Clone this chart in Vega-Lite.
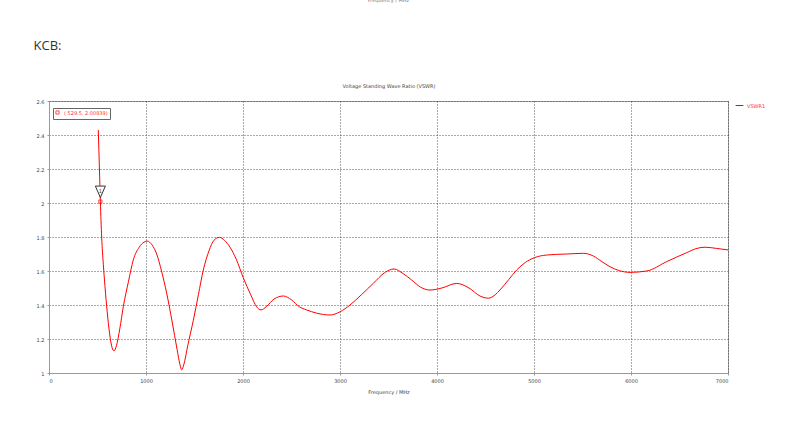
{
  "$schema": "https://vega.github.io/schema/vega-lite/v6.json",
  "autosize": {"type": "none"},
  "width": 679,
  "height": 272,
  "padding": {"left": 49, "top": 101, "right": 75, "bottom": 57},
  "background": "white",
  "config": {
    "font": "DejaVu Sans",
    "view": {"stroke": "#a0a0a0", "strokeWidth": 1},
    "axis": {
      "labelFont": "DejaVu Sans",
      "labelFontSize": 5,
      "labelColor": "#444",
      "titleFont": "DejaVu Sans",
      "titleFontSize": 5,
      "titleFontWeight": "normal",
      "titleColor": "#444",
      "gridColor": "#444",
      "gridDash": [1, 2],
      "gridOpacity": 0.9,
      "gridWidth": 1,
      "domainColor": "#999",
      "tickColor": "#999",
      "tickSize": 2
    }
  },
  "title": {
    "text": "Frequency / MHz",
    "font": "DejaVu Sans",
    "fontSize": 5,
    "fontWeight": "normal",
    "color": "#777",
    "anchor": "middle",
    "offset": 36
  },
  "datasets": {
    "vswr": [
      {"freq": 508, "vswr": 2.43, "series": "VSWR1"},
      {"freq": 520, "vswr": 2.2, "series": "VSWR1"},
      {"freq": 529.5, "vswr": 2.00839, "series": "VSWR1"},
      {"freq": 543, "vswr": 1.8, "series": "VSWR1"},
      {"freq": 560, "vswr": 1.64, "series": "VSWR1"},
      {"freq": 577, "vswr": 1.51, "series": "VSWR1"},
      {"freq": 600, "vswr": 1.36, "series": "VSWR1"},
      {"freq": 625, "vswr": 1.23, "series": "VSWR1"},
      {"freq": 650, "vswr": 1.15, "series": "VSWR1"},
      {"freq": 670, "vswr": 1.13, "series": "VSWR1"},
      {"freq": 695, "vswr": 1.16, "series": "VSWR1"},
      {"freq": 730, "vswr": 1.26, "series": "VSWR1"},
      {"freq": 766, "vswr": 1.39, "series": "VSWR1"},
      {"freq": 820, "vswr": 1.54, "series": "VSWR1"},
      {"freq": 869, "vswr": 1.665, "series": "VSWR1"},
      {"freq": 930, "vswr": 1.74, "series": "VSWR1"},
      {"freq": 980, "vswr": 1.77, "series": "VSWR1"},
      {"freq": 1014, "vswr": 1.776, "series": "VSWR1"},
      {"freq": 1060, "vswr": 1.755, "series": "VSWR1"},
      {"freq": 1110, "vswr": 1.7, "series": "VSWR1"},
      {"freq": 1160, "vswr": 1.6, "series": "VSWR1"},
      {"freq": 1213, "vswr": 1.47, "series": "VSWR1"},
      {"freq": 1270, "vswr": 1.3, "series": "VSWR1"},
      {"freq": 1320, "vswr": 1.14, "series": "VSWR1"},
      {"freq": 1350, "vswr": 1.05, "series": "VSWR1"},
      {"freq": 1368, "vswr": 1.018, "series": "VSWR1"},
      {"freq": 1390, "vswr": 1.05, "series": "VSWR1"},
      {"freq": 1430, "vswr": 1.16, "series": "VSWR1"},
      {"freq": 1488, "vswr": 1.31, "series": "VSWR1"},
      {"freq": 1540, "vswr": 1.46, "series": "VSWR1"},
      {"freq": 1591, "vswr": 1.606, "series": "VSWR1"},
      {"freq": 1650, "vswr": 1.72, "series": "VSWR1"},
      {"freq": 1700, "vswr": 1.78, "series": "VSWR1"},
      {"freq": 1756, "vswr": 1.798, "series": "VSWR1"},
      {"freq": 1810, "vswr": 1.78, "series": "VSWR1"},
      {"freq": 1866, "vswr": 1.74, "series": "VSWR1"},
      {"freq": 1930, "vswr": 1.67, "series": "VSWR1"},
      {"freq": 2003, "vswr": 1.56, "series": "VSWR1"},
      {"freq": 2080, "vswr": 1.46, "series": "VSWR1"},
      {"freq": 2140, "vswr": 1.39, "series": "VSWR1"},
      {"freq": 2186, "vswr": 1.371, "series": "VSWR1"},
      {"freq": 2240, "vswr": 1.39, "series": "VSWR1"},
      {"freq": 2320, "vswr": 1.435, "series": "VSWR1"},
      {"freq": 2416, "vswr": 1.453, "series": "VSWR1"},
      {"freq": 2500, "vswr": 1.43, "series": "VSWR1"},
      {"freq": 2580, "vswr": 1.39, "series": "VSWR1"},
      {"freq": 2656, "vswr": 1.371, "series": "VSWR1"},
      {"freq": 2760, "vswr": 1.352, "series": "VSWR1"},
      {"freq": 2897, "vswr": 1.341, "series": "VSWR1"},
      {"freq": 3000, "vswr": 1.36, "series": "VSWR1"},
      {"freq": 3103, "vswr": 1.4, "series": "VSWR1"},
      {"freq": 3220, "vswr": 1.46, "series": "VSWR1"},
      {"freq": 3344, "vswr": 1.528, "series": "VSWR1"},
      {"freq": 3460, "vswr": 1.59, "series": "VSWR1"},
      {"freq": 3557, "vswr": 1.612, "series": "VSWR1"},
      {"freq": 3650, "vswr": 1.585, "series": "VSWR1"},
      {"freq": 3739, "vswr": 1.547, "series": "VSWR1"},
      {"freq": 3830, "vswr": 1.505, "series": "VSWR1"},
      {"freq": 3928, "vswr": 1.488, "series": "VSWR1"},
      {"freq": 4050, "vswr": 1.5, "series": "VSWR1"},
      {"freq": 4203, "vswr": 1.527, "series": "VSWR1"},
      {"freq": 4330, "vswr": 1.5, "series": "VSWR1"},
      {"freq": 4443, "vswr": 1.453, "series": "VSWR1"},
      {"freq": 4529, "vswr": 1.44, "series": "VSWR1"},
      {"freq": 4600, "vswr": 1.46, "series": "VSWR1"},
      {"freq": 4649, "vswr": 1.488, "series": "VSWR1"},
      {"freq": 4740, "vswr": 1.55, "series": "VSWR1"},
      {"freq": 4822, "vswr": 1.606, "series": "VSWR1"},
      {"freq": 4910, "vswr": 1.65, "series": "VSWR1"},
      {"freq": 5003, "vswr": 1.678, "series": "VSWR1"},
      {"freq": 5131, "vswr": 1.694, "series": "VSWR1"},
      {"freq": 5337, "vswr": 1.7, "series": "VSWR1"},
      {"freq": 5509, "vswr": 1.704, "series": "VSWR1"},
      {"freq": 5612, "vswr": 1.688, "series": "VSWR1"},
      {"freq": 5700, "vswr": 1.655, "series": "VSWR1"},
      {"freq": 5784, "vswr": 1.625, "series": "VSWR1"},
      {"freq": 5880, "vswr": 1.602, "series": "VSWR1"},
      {"freq": 5990, "vswr": 1.592, "series": "VSWR1"},
      {"freq": 6162, "vswr": 1.6, "series": "VSWR1"},
      {"freq": 6368, "vswr": 1.655, "series": "VSWR1"},
      {"freq": 6574, "vswr": 1.708, "series": "VSWR1"},
      {"freq": 6680, "vswr": 1.733, "series": "VSWR1"},
      {"freq": 6763, "vswr": 1.74, "series": "VSWR1"},
      {"freq": 6880, "vswr": 1.733, "series": "VSWR1"},
      {"freq": 7000, "vswr": 1.724, "series": "VSWR1"}
    ],
    "marker": [
      {"freq": 529.5, "vswr": 2.00839, "id": "1", "label": "( 529.5, 2.00839)"}
    ]
  },
  "layer": [
    {
      "data": {"name": "vswr"},
      "mark": {"type": "line", "strokeWidth": 1, "interpolate": "monotone"},
      "encoding": {
        "x": {
          "field": "freq",
          "type": "quantitative",
          "scale": {"domain": [0, 7000], "nice": false, "zero": false},
          "axis": {
            "orient": "bottom",
            "values": [0, 1000, 2000, 3000, 4000, 5000, 6000, 7000],
            "format": "d",
            "title": "Frequency / MHz",
            "titlePadding": 6,
            "labelPadding": 3
          }
        },
        "y": {
          "field": "vswr",
          "type": "quantitative",
          "scale": {"domain": [1, 2.6], "nice": false, "zero": false},
          "axis": {
            "values": [1, 1.2, 1.4, 1.6, 1.8, 2, 2.2, 2.4, 2.6],
            "format": "~g",
            "labelOverlap": false,
            "title": "KCB:",
            "titleFont": "Open Sans",
            "titleFontSize": 13,
            "titleColor": "#333",
            "titleAngle": 0,
            "titleX": -16,
            "titleY": -56,
            "titleAlign": "left",
            "titleBaseline": "middle",
            "labelPadding": 3
          }
        },
        "stroke": {
          "field": "series",
          "type": "nominal",
          "scale": {"range": ["#ff0000"]},
          "legend": {
            "orient": "none",
            "legendX": 686,
            "legendY": 0,
            "title": null,
            "symbolType": "stroke",
            "symbolSize": 60,
            "symbolStrokeWidth": 1,
            "labelFont": "DejaVu Sans",
            "labelFontSize": 5,
            "labelColor": "#ff3030",
            "labelOffset": 3
          }
        }
      }
    },
    {
      "data": {"name": "marker"},
      "mark": {"type": "point", "filled": false, "color": "#ff0000", "strokeWidth": 1},
      "encoding": {
        "x": {
          "field": "freq",
          "type": "quantitative",
          "axis": {
            "orient": "top",
            "title": "Voltage Standing Wave Ratio (VSWR)",
            "labels": false,
            "ticks": false,
            "domain": false,
            "grid": false,
            "titlePadding": 13
          }
        },
        "y": {
          "field": "vswr",
          "type": "quantitative",
          "axis": {
            "values": [1, 1.2, 1.4, 1.6, 1.8, 2, 2.2, 2.4, 2.6],
            "format": "~g",
            "labelOverlap": false,
            "title": "KCB:",
            "titleFont": "Open Sans",
            "titleFontSize": 13,
            "titleColor": "#333",
            "titleAngle": 0,
            "titleX": -16,
            "titleY": -56,
            "titleAlign": "left",
            "titleBaseline": "middle",
            "labelPadding": 3
          }
        },
        "shape": {
          "field": "label",
          "type": "nominal",
          "scale": {"range": ["square"]},
          "legend": {
            "orient": "none",
            "legendX": 4,
            "legendY": 7,
            "title": null,
            "padding": 2,
            "strokeColor": "#666",
            "fillColor": "white",
            "cornerRadius": 0,
            "symbolSize": 10,
            "symbolStrokeColor": "#ff0000",
            "symbolStrokeWidth": 1,
            "symbolFillColor": "white",
            "labelFont": "DejaVu Sans",
            "labelFontSize": 5,
            "labelColor": "#ff3030",
            "labelOffset": 4
          }
        },
        "size": {"value": 10}
      }
    },
    {
      "data": {"name": "marker"},
      "mark": {
        "type": "point",
        "shape": "M-1,-3.1L1,-3.1L0,-0.8Z",
        "filled": true,
        "fill": "white",
        "stroke": "#333",
        "strokeWidth": 1,
        "opacity": 1,
        "size": 100
      },
      "encoding": {
        "x": {"field": "freq", "type": "quantitative", "axis": null},
        "y": {
          "field": "vswr",
          "type": "quantitative",
          "axis": {
            "values": [1, 1.2, 1.4, 1.6, 1.8, 2, 2.2, 2.4, 2.6],
            "format": "~g",
            "labelOverlap": false,
            "title": "KCB:",
            "titleFont": "Open Sans",
            "titleFontSize": 13,
            "titleColor": "#333",
            "titleAngle": 0,
            "titleX": -16,
            "titleY": -56,
            "titleAlign": "left",
            "titleBaseline": "middle",
            "labelPadding": 3
          }
        }
      }
    },
    {
      "data": {"name": "marker"},
      "mark": {
        "type": "text",
        "font": "DejaVu Sans",
        "fontSize": 5,
        "color": "#333",
        "dy": -11,
        "align": "center",
        "baseline": "middle"
      },
      "encoding": {
        "x": {"field": "freq", "type": "quantitative", "axis": null},
        "y": {
          "field": "vswr",
          "type": "quantitative",
          "axis": {
            "values": [1, 1.2, 1.4, 1.6, 1.8, 2, 2.2, 2.4, 2.6],
            "format": "~g",
            "labelOverlap": false,
            "title": "KCB:",
            "titleFont": "Open Sans",
            "titleFontSize": 13,
            "titleColor": "#333",
            "titleAngle": 0,
            "titleX": -16,
            "titleY": -56,
            "titleAlign": "left",
            "titleBaseline": "middle",
            "labelPadding": 3
          }
        },
        "text": {"field": "id"}
      }
    }
  ],
  "resolve": {"axis": {"x": "independent"}}
}
